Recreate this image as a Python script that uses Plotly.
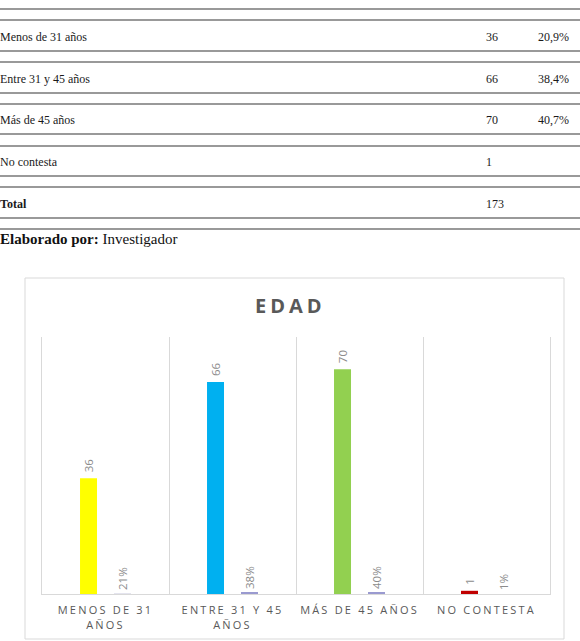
import plotly.graph_objects as go

W, H = 580, 641

# ---------------- data ----------------
table_labels = ["Menos de 31 años", "Entre 31 y 45 años", "Más de 45 años", "No contesta", "Total"]
table_counts = ["36", "66", "70", "1", "173"]
table_pcts = ["20,9%", "38,4%", "40,7%", "", ""]
source_label = "Elaborado por:"
source_value = "Investigador"

chart_title = "EDAD"
categories = ["MENOS DE 31 AÑOS", "ENTRE 31 Y 45 AÑOS", "MÁS DE 45 AÑOS", "NO CONTESTA"]
tick_lines = [["MENOS DE 31", "AÑOS"], ["ENTRE 31 Y 45", "AÑOS"], ["MÁS DE 45 AÑOS"], ["NO CONTESTA"]]
counts = [36, 66, 70, 1]
shares = [0.21, 0.38, 0.40, 0.01]

count_colors = ["#ffff00", "#00b0f0", "#92d050", "#c00000"]
share_colors = ["#e4e4ee", "#9a9ad0", "#9a9ad0", "#ffffff"]


def px(x):
    return x / W


def py(y):
    return 1 - y / H


def spaced(s, sp):
    return f'<span style="letter-spacing:{sp}px">{s}</span>'


fig = go.Figure()

label_font = dict(family="Open Sans", size=11.5, color="#8c8c8c")
fig.add_trace(go.Bar(
    x=categories, y=counts, marker=dict(color=count_colors, line=dict(width=0)),
    text=[" " + str(v) for v in counts], textposition="outside", textangle=-90,
    textfont=label_font, cliponaxis=False, constraintext="none",
))
fig.add_trace(go.Bar(
    x=categories, y=shares, marker=dict(color=share_colors, line=dict(width=0)),
    texttemplate="%{y:.0%}", textposition="outside", textangle=-90,
    textfont=label_font, cliponaxis=False, constraintext="none",
))

shapes = []
annotations = []

# ---------------- table (document part) ----------------
line_pairs = [(9, 20), (51, 62), (93, 104), (134, 146), (176, 187), (218, 229)]
for a, b in line_pairs:
    for yy in (a, b):
        shapes.append(dict(type="line", xref="paper", yref="paper",
                           x0=0, x1=1, y0=py(yy), y1=py(yy),
                           line=dict(color="#777777", width=1.5)))

row_y = [37, 79, 120, 162, 204]
for i, (lab, cnt, pct) in enumerate(zip(table_labels, table_counts, table_pcts)):
    bold = lab == "Total"
    annotations.append(dict(xref="paper", yref="paper", x=px(-2), y=py(row_y[i]),
                            xanchor="left", yanchor="middle", showarrow=False,
                            text=f"<b>{lab}</b>" if bold else lab,
                            font=dict(family="Liberation Serif", size=12, color="#1a1a1a")))
    annotations.append(dict(xref="paper", yref="paper", x=px(484), y=py(row_y[i]),
                            xanchor="left", yanchor="middle", showarrow=False, text=cnt,
                            font=dict(family="Liberation Serif", size=12, color="#1a1a1a")))
    if pct:
        annotations.append(dict(xref="paper", yref="paper", x=px(536), y=py(row_y[i]),
                                xanchor="left", yanchor="middle", showarrow=False, text=pct,
                                font=dict(family="Liberation Serif", size=12, color="#1a1a1a")))

annotations.append(dict(xref="paper", yref="paper", x=px(-2), y=py(239),
                        xanchor="left", yanchor="middle", showarrow=False,
                        text=f"<b>{source_label}</b> {source_value}",
                        font=dict(family="Liberation Serif", size=15, color="#111111")))

# ---------------- chart frame ----------------
shapes.append(dict(type="rect", xref="paper", yref="paper",
                   x0=px(25), x1=px(564), y0=py(639), y1=py(278),
                   line=dict(color="#d9d9d9", width=1), fillcolor="rgba(0,0,0,0)", layer="below"))

annotations.append(dict(xref="paper", yref="paper", x=px(290), y=py(305),
                        xanchor="center", yanchor="middle", showarrow=False,
                        text=spaced(chart_title, 4),
                        font=dict(family="Open Sans", size=20, color="#595959", weight="bold")))

fig.update_layout(
    width=W, height=H,
    margin=dict(l=0, r=0, t=0, b=0),
    paper_bgcolor="white", plot_bgcolor="white",
    barmode="group", bargap=0.465, bargroupgap=0.5,
    showlegend=False,
    shapes=shapes, annotations=annotations,
    xaxis=dict(
        domain=[px(42), px(550)],
        tickson="boundaries", showgrid=True, gridcolor="#d9d9d9", gridwidth=1,
        showline=True, linecolor="#d9d9d9", ticks="", zeroline=False,
        tickmode="array", tickvals=categories,
        ticktext=["<br>".join(spaced(t, 2.2) for t in lines) for lines in tick_lines],
        tickfont=dict(family="Open Sans", size=11, color="#595959"),
        ticklabelstandoff=6,
    ),
    yaxis=dict(domain=[py(594), py(337)], range=[0, 80],
               showticklabels=False, showgrid=False, zeroline=False, ticks="",
               showline=True, mirror=True, linecolor="#d9d9d9"),
)

fig.write_html("out.html")
